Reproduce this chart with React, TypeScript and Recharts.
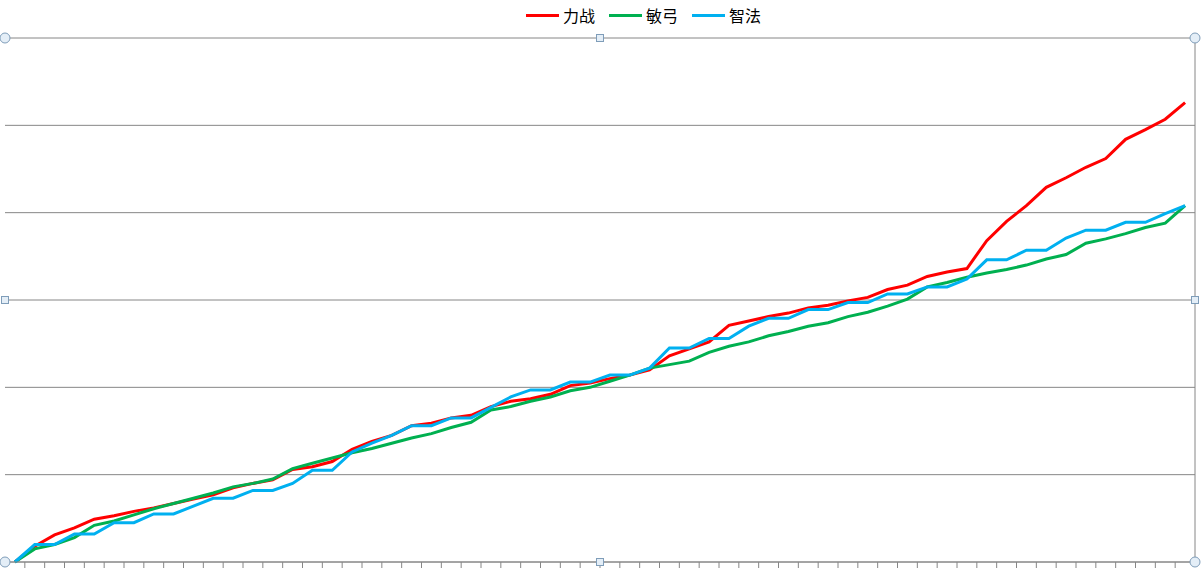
import {
  CartesianGrid,
  Line,
  LineChart,
  ReferenceDot,
  ReferenceLine,
  XAxis,
  YAxis,
} from 'recharts'

// 60 categories, no labels shown on the axis
const categories = Array.from({ length: 60 }, (_, i) => i + 1)

const liZhan = [
  0, 1.8, 3.1, 3.9, 4.9, 5.3, 5.8, 6.2, 6.7, 7.2,
  7.7, 8.5, 9.0, 9.4, 10.6, 10.9, 11.5, 12.9, 13.8, 14.5,
  15.6, 15.9, 16.5, 16.8, 17.8, 18.4, 18.7, 19.2, 20.2, 20.5,
  21.0, 21.4, 22.0, 23.6, 24.4, 25.2, 27.1, 27.6, 28.1, 28.5,
  29.1, 29.4, 29.9, 30.3, 31.2, 31.7, 32.7, 33.2, 33.6, 36.8,
  39.0, 40.8, 42.9, 44.0, 45.2, 46.2, 48.4, 49.5, 50.7, 52.6,
]

const minGong = [
  0, 1.5, 2.0, 2.8, 4.2, 4.7, 5.4, 6.1, 6.7, 7.3,
  7.9, 8.6, 9.0, 9.5, 10.7, 11.3, 11.9, 12.5, 13.0, 13.6,
  14.2, 14.7, 15.4, 16.0, 17.4, 17.8, 18.4, 18.9, 19.6, 20.0,
  20.7, 21.4, 22.2, 22.6, 23.0, 24.0, 24.7, 25.2, 25.9, 26.4,
  27.0, 27.4, 28.1, 28.6, 29.3, 30.1, 31.5, 32.0, 32.6, 33.1,
  33.5, 34.0, 34.7, 35.2, 36.5, 37.0, 37.6, 38.3, 38.8, 40.8,
]

const zhiFa = [
  0, 2.0, 2.0, 3.2, 3.2, 4.5, 4.5, 5.5, 5.5, 6.4,
  7.3, 7.3, 8.2, 8.2, 9.0, 10.5, 10.5, 12.6, 13.6, 14.5,
  15.6, 15.6, 16.5, 16.5, 17.7, 18.9, 19.7, 19.7, 20.6, 20.6,
  21.4, 21.4, 22.2, 24.5, 24.5, 25.6, 25.6, 27.0, 27.9, 27.9,
  28.9, 28.9, 29.7, 29.7, 30.7, 30.7, 31.5, 31.5, 32.4, 34.6,
  34.6, 35.7, 35.7, 37.1, 38.0, 38.0, 38.9, 38.9, 39.9, 40.8,
]

const yTicks = [0, 10, 20, 30, 40, 50, 60]

const series = [
  { name: '力战', values: liZhan, color: '#FF0000' },
  { name: '敏弓', values: minGong, color: '#00B050' },
  { name: '智法', values: zhiFa, color: '#00B0F0' },
]

const data = categories.map((c, i) => ({
  idx: i,
  label: c,
  力战: liZhan[i],
  敏弓: minGong[i],
  智法: zhiFa[i],
}))

// tick marks sit between categories
const xTicks = categories.slice(1).map((_, i) => i + 0.5)
const xMin = -0.5
const xMax = categories.length - 0.5
const xMid = (xMin + xMax) / 2

const grid = '#868686'
const handleStroke = '#7f9db9'

const CircleHandle = (props: any) => (
  <circle cx={props.cx} cy={props.cy} r={5} fill="#e4eef7" stroke={handleStroke} strokeWidth={1} />
)

const SquareHandle = (props: any) => (
  <rect x={props.cx - 3.5} y={props.cy - 3.5} width={7} height={7} fill="#e4eef7" stroke={handleStroke} strokeWidth={1} />
)

const LegendRow = () => (
  <div
    style={{
      position: 'absolute',
      top: 4,
      left: 526,
      display: 'flex',
      alignItems: 'center',
      fontFamily: '"Noto Sans CJK SC", sans-serif',
      fontSize: 16,
      lineHeight: '22px',
      color: '#000',
    }}
  >
    {series.map((s) => (
      <div key={s.name} style={{ display: 'flex', alignItems: 'center', marginRight: 14 }}>
        <span style={{ display: 'inline-block', width: 33, height: 3, background: s.color, marginRight: 4 }} />
        <span>{s.name}</span>
      </div>
    ))}
  </div>
)

export default function App() {
  return (
    <div style={{ position: 'relative', width: 1201, height: 574, background: '#fff' }}>
      <style>{'body{margin:0}'}</style>
      <LegendRow />
      <LineChart
        width={1201}
        height={574}
        data={data}
        margin={{ top: 38, right: 6, bottom: 0, left: 5 }}
      >
        <CartesianGrid vertical={false} stroke={grid} strokeWidth={1} />
        <XAxis
          dataKey="idx"
          type="number"
          domain={[xMin, xMax]}
          ticks={xTicks}
          interval={0}
          height={12}
          tickSize={6}
          tickFormatter={() => ''}
          axisLine={{ stroke: grid }}
          tickLine={{ stroke: grid }}
        />
        <YAxis
          domain={[0, 60]}
          ticks={yTicks}
          width={0}
          tickSize={5}
          tickFormatter={() => ''}
          axisLine={{ stroke: grid }}
          tickLine={{ stroke: grid }}
        />
        <ReferenceLine x={xMax} stroke={grid} ifOverflow="visible" />
        {series.map((s) => (
          <Line
            key={s.name}
            type="linear"
            dataKey={s.name}
            stroke={s.color}
            strokeWidth={3}
            dot={false}
            activeDot={false}
            isAnimationActive={false}
          />
        ))}
        <ReferenceDot x={xMin} y={60} ifOverflow="visible" shape={CircleHandle} />
        <ReferenceDot x={xMax} y={60} ifOverflow="visible" shape={CircleHandle} />
        <ReferenceDot x={xMin} y={0} ifOverflow="visible" shape={CircleHandle} />
        <ReferenceDot x={xMax} y={0} ifOverflow="visible" shape={CircleHandle} />
        <ReferenceDot x={xMid} y={60} ifOverflow="visible" shape={SquareHandle} />
        <ReferenceDot x={xMid} y={0} ifOverflow="visible" shape={SquareHandle} />
        <ReferenceDot x={xMin} y={30} ifOverflow="visible" shape={SquareHandle} />
        <ReferenceDot x={xMax} y={30} ifOverflow="visible" shape={SquareHandle} />
      </LineChart>
    </div>
  )
}
